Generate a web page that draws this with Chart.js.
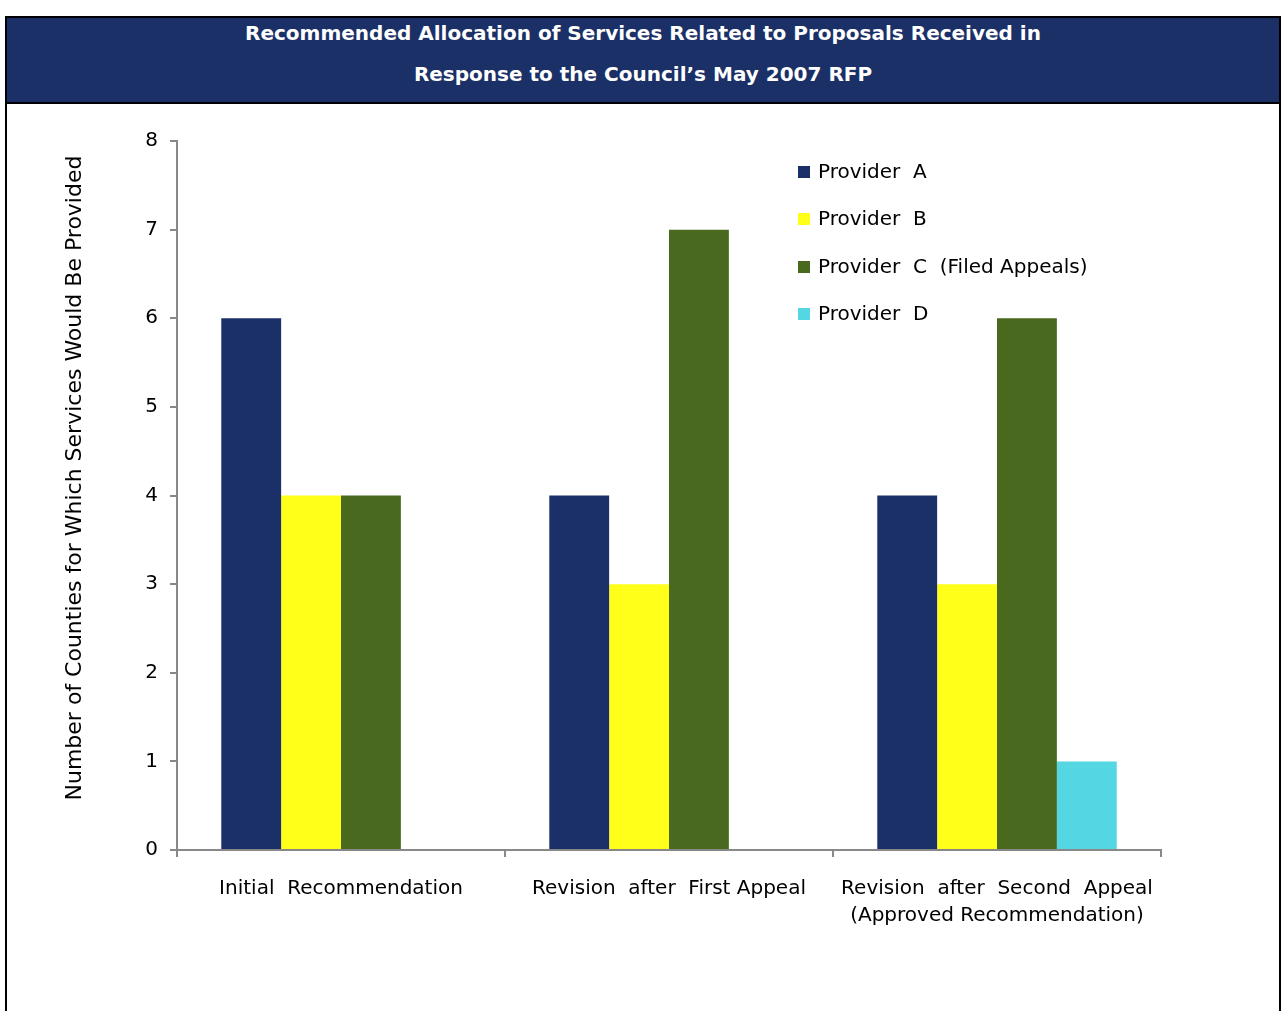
<!DOCTYPE html>
<html>
<head>
<meta charset="utf-8">
<script src="https://cdn.jsdelivr.net/npm/chart.js@4"></script>
<style>
  html, body { margin: 0; padding: 0; background: #fff; }
  body { width: 1286px; height: 1011px; position: relative; overflow: hidden; font-family: "DejaVu Sans", sans-serif; }
  #frame { position: absolute; left: 5px; top: 16px; width: 1272px; height: 1000px; border: 2px solid #000; box-sizing: content-box; }
  #banner { position: absolute; left: 7px; top: 18px; width: 1272px; height: 84px; background: #1b3066; border-bottom: 2px solid #000; color: #fff; text-align: center; font-weight: bold; font-size: 20px; }
  #banner div { position: absolute; left: 0; right: 0; }
  #chartWrap { position: absolute; left: 0; top: 0; width: 1286px; height: 1011px; }
  #legend { position: absolute; left: 798px; top: 159px; font-size: 20px; color: #000; }
  .li { position: absolute; white-space: pre; height: 24px; line-height: 24px; }
  .sw { position: absolute; left: 0; top: 7px; width: 12px; height: 12px; }
  .lt { position: absolute; left: 20px; top: 0; }
</style>
</head>
<body>
<div id="frame"></div>
<div id="banner">
  <div style="top:3px">Recommended Allocation of Services Related to Proposals Received in</div>
  <div style="top:44px">Response to the Council’s May 2007 RFP</div>
</div>
<div id="chartWrap"><canvas id="c" width="1286" height="1011"></canvas></div>
<div id="legend"></div>
<script>
const categories = [["Initial  Recommendation"], ["Revision  after  First Appeal"], ["Revision  after  Second  Appeal", "(Approved Recommendation)"]];
const seriesNames = ["Provider  A", "Provider  B", "Provider  C  (Filed Appeals)", "Provider  D"];
const providerA = [6, 4, 4];
const providerB = [4, 3, 3];
const providerC = [4, 7, 6];
const providerD = [0, 0, 1];
const yTicks = [0, 1, 2, 3, 4, 5, 6, 7, 8];
const yAxisTitle = "Number of Counties for Which Services Would Be Provided";
const colors = ["#1b3068", "#ffff19", "#48691e", "#55d6e3"];

const seriesValues = [providerA, providerB, providerC, providerD];
const FONT = "'DejaVu Sans', sans-serif";

const datasets = seriesValues.map((vals, i) => ({
  label: seriesNames[i],
  data: vals,
  backgroundColor: colors[i],
  borderWidth: 0,
  categoryPercentage: 0.73,
  barPercentage: 1.0
}));

new Chart(document.getElementById('c'), {
  type: 'bar',
  data: { labels: categories, datasets },
  options: {
    responsive: false,
    animation: false,
    devicePixelRatio: 1,
    layout: { padding: { left: 62, top: 141, right: 125, bottom: 0 } },
    plugins: { legend: { display: false }, title: { display: false }, tooltip: { enabled: false } },
    scales: {
      x: {
        offset: true,
        grid: { display: true, offset: true, drawOnChartArea: false, drawTicks: true, tickLength: 7, color: '#888', lineWidth: 2 },
        border: { display: true, color: '#888', width: 2 },
        ticks: { color: '#000', font: { family: FONT, size: 20, lineHeight: 1.35 }, padding: 18, maxRotation: 0, autoSkip: false },
        afterFit: (s) => { s.height = 161; }
      },
      y: {
        min: 0, max: 8,
        afterBuildTicks: (s) => { s.ticks = yTicks.map(v => ({ value: v })); },
        grid: { display: true, drawOnChartArea: false, drawTicks: true, tickLength: 7, color: '#888', lineWidth: 2 },
        border: { display: true, color: '#888', width: 2 },
        ticks: { color: '#000', font: { family: FONT, size: 20 }, padding: 12 },
        title: { display: true, text: '     ' + yAxisTitle, color: '#000', font: { family: FONT, size: 22 }, padding: { top: 0, bottom: 0 } },
        afterFit: (s) => { s.width = 115; }
      }
    }
  }
});

const legend = document.getElementById('legend');
seriesNames.forEach((n, i) => {
  const row = document.createElement('div');
  row.className = 'li';
  row.style.top = (i * 47.3) + 'px';
  row.innerHTML = '<span class="sw" style="background:' + colors[i] + '"></span><span class="lt"></span>';
  row.querySelector('.lt').textContent = n;
  legend.appendChild(row);
});
</script>
</body>
</html>
